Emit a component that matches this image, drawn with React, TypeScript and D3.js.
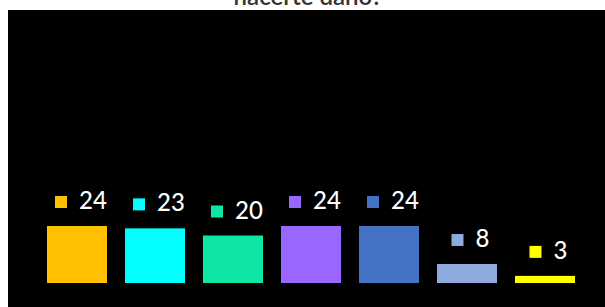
import React from "react";
import * as d3 from "d3";

const categories = ["A", "B", "C", "D", "E", "F", "G"];
const values = [24, 23, 20, 24, 24, 8, 3];
const colors = ["#FFC000", "#00FFFF", "#0EE6A6", "#9966FF", "#4472C4", "#8FAADC", "#FFFF00"];
const titleLine = "hacerte daño?";

export default function App() {
    const width = 605;
    const height = 307;
    const baseY = 283;

    const xScale = d3.scaleBand()
        .domain(categories)
        .range([29, 593])
        .padding(18 / 78);

    const yScale = d3.scaleLinear()
        .domain([0, 24])
        .range([baseY, 226]);

    return (
        <svg width={width} height={height}
             style={{ position: "absolute", left: 0, top: 0, fontFamily: "Lato, 'Open Sans', sans-serif" }}>
            <rect x={0} y={0} width={width} height={height} fill="#ffffff" />
            <text x={308} y={5} textAnchor="middle" fontSize={24} fontWeight={600} fill="#333333">
                {titleLine}
            </text>
            <rect x={8} y={10} width={width - 8} height={height - 10} fill="#000000" />
            {categories.map((c, i) => {
                const v = values[i];
                const x = xScale(c) ?? 0;
                const bw = xScale.bandwidth();
                const top = yScale(v);
                const label = String(v);
                const tw = label.length * 13;
                // marker + label, roughly centred over the bar
                const start = x + bw / 2 - (24 + tw) / 2 + 3;
                return (
                    <g key={c}>
                        <rect x={x} y={top} width={bw} height={baseY - top} fill={colors[i]} />
                        <rect x={start} y={top - 30} width={12} height={12} fill={colors[i]} />
                        <text x={start + 24} y={top - 17} fontSize={24} fontWeight={500} fill="#ffffff">{label}</text>
                    </g>
                );
            })}
        </svg>
    );
}
